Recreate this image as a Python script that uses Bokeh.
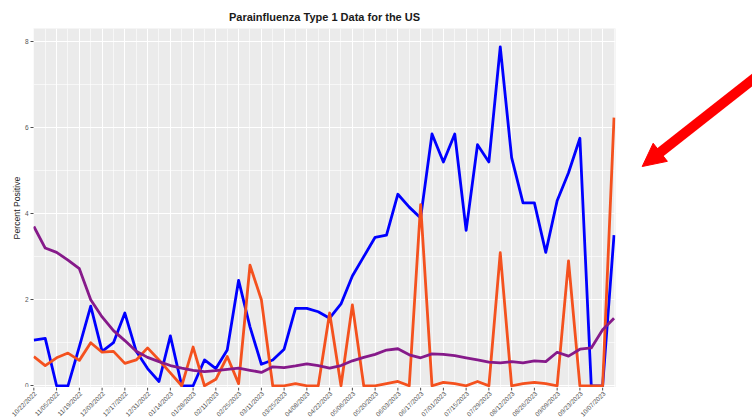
import math
from bokeh.plotting import figure
from bokeh.layouts import row, column
from bokeh.models import FixedTicker, Range1d
from bokeh.core.properties import value
from bokeh.embed import file_html
from bokeh.resources import INLINE

# ---- data (weekly, week 0 = 10/22/2022) ----
title_text = "Parainfluenza Type 1 Data for the US"
weeks = list(range(52))
tick_weeks = list(range(0, 52, 2))
tick_labels = ["10/22/2022", "11/05/2022", "11/19/2022", "12/03/2022", "12/17/2022",
               "12/31/2022", "01/14/2023", "01/28/2023", "02/11/2023", "02/25/2023",
               "03/11/2023", "03/25/2023", "04/08/2023", "04/22/2023", "05/06/2023",
               "05/20/2023", "06/03/2023", "06/17/2023", "07/01/2023", "07/15/2023",
               "07/29/2023", "08/12/2023", "08/26/2023", "09/09/2023", "09/23/2023",
               "10/07/2023"]
y_ticks = [0, 2, 4, 6, 8]
y_minor = [1, 3, 5, 7]

blue = [1.06, 1.1, 0.0, 0.0, 0.91, 1.85, 0.8, 1.0, 1.69, 0.8,
        0.4, 0.1, 1.16, 0.0, 0.0, 0.6, 0.4, 0.83, 2.45, 1.37,
        0.5, 0.6, 0.85, 1.8, 1.8, 1.72, 1.57, 1.9, 2.55, 3.0,
        3.45, 3.5, 4.45, 4.15, 3.9, 5.85, 5.2, 5.85, 3.61, 5.6,
        5.2, 7.87, 5.3, 4.25, 4.25, 3.1, 4.3, 4.95, 5.75, 0.0,
        0.0, 3.5]
orange = [0.68, 0.47, 0.65, 0.76, 0.59, 1.0, 0.78, 0.8, 0.52, 0.6,
          0.88, 0.6, 0.3, 0.0, 0.9, 0.0, 0.15, 0.68, 0.05, 2.8,
          2.0, 0.0, 0.0, 0.05, 0.0, 0.0, 1.69, 0.0, 1.88, 0.0,
          0.0, 0.05, 0.1, 0.0, 4.21, 0.0, 0.08, 0.05, 0.0, 0.1,
          0.0, 3.09, 0.0, 0.05, 0.08, 0.05, 0.0, 2.9, 0.0, 0.0,
          0.0, 6.23]
purple = [3.7, 3.2, 3.1, 2.92, 2.72, 2.0, 1.6, 1.28, 1.05, 0.8,
          0.66, 0.56, 0.47, 0.41, 0.36, 0.33, 0.35, 0.38, 0.41, 0.36,
          0.31, 0.44, 0.42, 0.46, 0.51, 0.47, 0.41, 0.47, 0.58, 0.66,
          0.73, 0.83, 0.86, 0.72, 0.65, 0.74, 0.73, 0.7, 0.65, 0.6,
          0.55, 0.53, 0.56, 0.53, 0.58, 0.56, 0.78, 0.69, 0.85, 0.88,
          1.3, 1.57]

X0, X1 = -0.03, 51.13
Y0, Y1 = -0.04, 8.30
FONT = "Liberation Sans"
W_MAIN, BL, BR = 625, 33, 10
FRAME_W = W_MAIN - BL - BR
TOP_H, MAIN_H, BOT_H = 28, 359, 30


def strip(height, xr, yr):
    f = figure(width=W_MAIN, height=height, output_backend="svg", toolbar_location=None,
               x_range=xr, y_range=yr, min_border=0, x_axis_location=None,
               y_axis_location=None, frame_align=False)
    f.grid.visible = False
    f.outline_line_color = None
    f.background_fill_color = "white"
    f.border_fill_color = "white"
    return f


# ---- title strip ----
t = strip(TOP_H, Range1d(0, W_MAIN), Range1d(0, TOP_H))
t.text(x=[BL + FRAME_W / 2], y=[TOP_H - 16], text=[title_text], text_align="center",
       text_baseline="middle", text_font=value(FONT), text_font_size="11px",
       text_font_style="bold", text_color="#1a1a1a")

# ---- main panel ----
p = figure(width=W_MAIN, height=MAIN_H, output_backend="svg", toolbar_location=None,
           x_range=Range1d(X0, X1), y_range=Range1d(Y0, Y1), x_axis_location=None,
           min_border_left=BL, min_border_right=BR, min_border_top=0, min_border_bottom=0,
           frame_align=False)
p.background_fill_color = "#EBEBEB"
p.border_fill_color = "white"
p.outline_line_color = None

xt = FixedTicker(ticks=tick_weeks, minor_ticks=[w for w in weeks if w % 2 == 1])
yt = FixedTicker(ticks=y_ticks, minor_ticks=y_minor)
p.yaxis.ticker = yt
p.xgrid.ticker = xt
p.ygrid.ticker = yt

ax = p.yaxis[0]
ax.axis_line_color = None
ax.major_tick_out = 3
ax.major_tick_in = 0
ax.minor_tick_out = 0
ax.minor_tick_in = 0
ax.major_tick_line_color = "#4d4d4d"
ax.major_label_text_font = FONT
ax.major_label_text_color = "#555555"
ax.major_label_text_font_size = "6.5px"
ax.major_label_standoff = 2
ax.axis_label = "Percent Positive"
ax.axis_label_text_font = FONT
ax.axis_label_text_font_size = "8.7px"
ax.axis_label_text_font_style = "normal"
ax.axis_label_text_color = "#222222"
ax.axis_label_standoff = 0

for g in (p.xgrid, p.ygrid):
    g.grid_line_color = "white"
    g.grid_line_width = 1.1
    g.minor_grid_line_color = "white"
    g.minor_grid_line_width = 0.6

p.line(weeks, blue, line_color="#0000FF", line_width=2.8, line_join="round")
p.line(weeks, orange, line_color="#F4511E", line_width=2.8, line_join="round")
p.line(weeks, purple, line_color="#861A8A", line_width=2.8, line_join="round")

# ---- x tick marks and rotated date labels (same x scale as the panel) ----
k = (X1 - X0) / FRAME_W
s = strip(BOT_H, Range1d(X0 - BL * k, X1 + BR * k), Range1d(0, BOT_H))
n = len(tick_weeks)
s.segment(x0=tick_weeks, y0=[BOT_H] * n, x1=tick_weeks, y1=[BOT_H - 3] * n,
          line_color="#4d4d4d", line_width=1)
s.text(x=tick_weeks, y=[BOT_H - 5] * n, text=tick_labels, angle=math.pi / 4,
       text_align="right", text_baseline="middle", text_font=value(FONT),
       text_font_size="6.4px", text_color="#555555", x_offset=1.5)

# ---- red pointer arrow in a side panel (pixel-like coordinates) ----
a = figure(width=752 - W_MAIN, height=TOP_H + MAIN_H + BOT_H, output_backend="svg",
           toolbar_location=None, x_range=Range1d(W_MAIN, 752),
           y_range=Range1d(TOP_H + MAIN_H + BOT_H, 0),
           min_border=0, x_axis_location=None, y_axis_location=None, frame_align=False)
a.grid.visible = False
a.outline_line_color = None
a.background_fill_color = "white"
a.border_fill_color = "white"
tip = (641.7, 166.0)
ux, uy = 0.786, -0.618          # direction from tip towards the tail
tail = (tip[0] + ux * 152, tip[1] + uy * 152)
head_len, head_half = 23.0, 11.5
bx, by = tip[0] + ux * head_len, tip[1] + uy * head_len
a.segment(x0=[tail[0]], y0=[tail[1]], x1=[bx - ux * 2], y1=[by - uy * 2],
          line_color="#FF0000", line_width=10)
a.patch(x=[tip[0], bx + uy * head_half, bx - uy * head_half],
        y=[tip[1], by - ux * head_half, by + ux * head_half],
        fill_color="#FF0000", line_color="#FF0000", line_width=1)

layout = row(column(t, p, s), a)
open("out.html", "w").write(file_html(layout, INLINE))
